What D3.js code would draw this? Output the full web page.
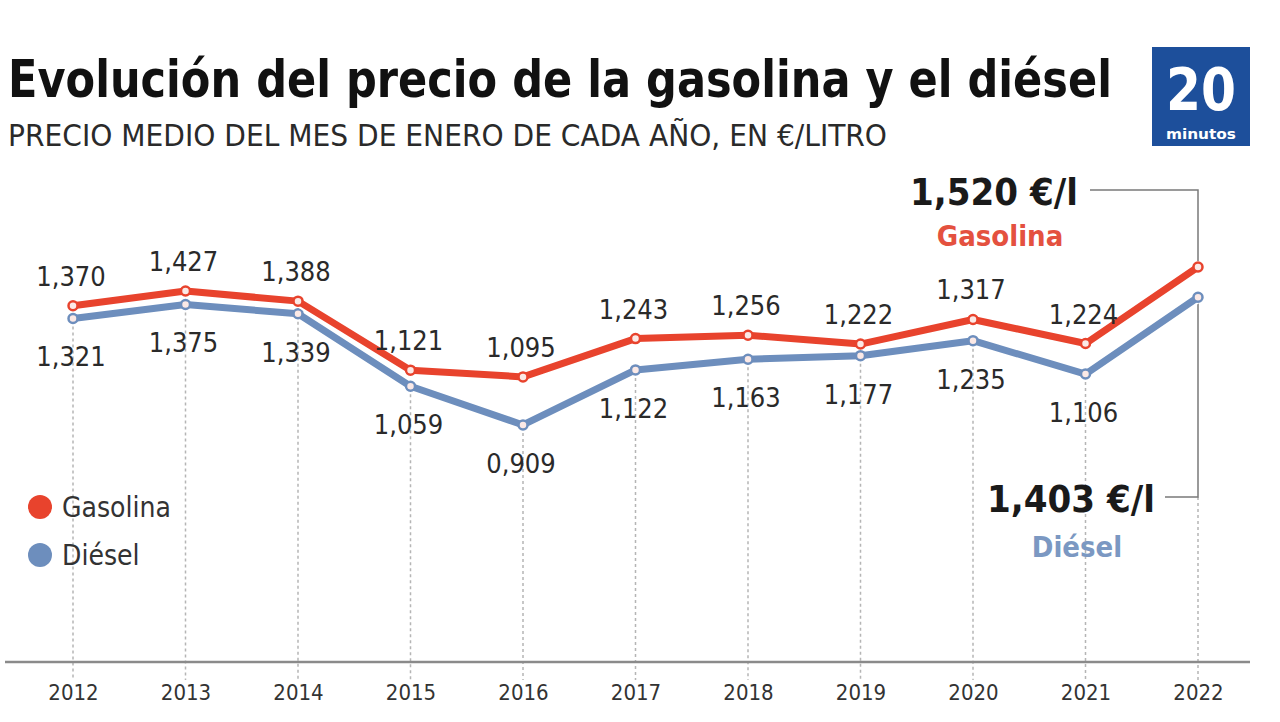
<!DOCTYPE html>
<html>
<head>
<meta charset="utf-8">
<script src="https://cdn.jsdelivr.net/npm/d3@7"></script>
<style>
  html, body { margin: 0; padding: 0; background: #fff; }
  svg { display: block; }
</style>
</head>
<body>
<svg id="chart" width="1280" height="722"></svg>
<script>
// ---- data ----
const years = ["2012","2013","2014","2015","2016","2017","2018","2019","2020","2021","2022"];
const gasolina = [1.370, 1.427, 1.388, 1.121, 1.095, 1.243, 1.256, 1.222, 1.317, 1.224, 1.520];
const diesel   = [1.321, 1.375, 1.339, 1.059, 0.909, 1.122, 1.163, 1.177, 1.235, 1.106, 1.403];
const seriesNames = ["Gasolina", "Diésel"];
const titleText = "Evolución del precio de la gasolina y el diésel";
const subtitleText = "PRECIO MEDIO DEL MES DE ENERO DE CADA AÑO, EN €/LITRO";
const fmt = v => d3.format(".3f")(v).replace(".", ",");

const RED = "#e8432d", BLUE = "#6d8ebd";
const svg = d3.select("#chart");
const FONT = '"Liberation Sans Narrow", "DejaVu Sans Condensed", Roboto, sans-serif';

// scales
const x = d3.scalePoint().domain(years).range([73, 1198]);
const y = d3.scaleLinear().domain([0, 1.52]).range([660, 267]);

// title
svg.append("text").attr("transform", "translate(8,97) scale(1,1.1)")
  .attr("font-family", FONT).attr("font-weight", 700).attr("font-size", 47.5)
  .attr("fill", "#111").attr("textLength", 1104).attr("lengthAdjust", "spacingAndGlyphs")
  .text(titleText);
svg.append("text").attr("x", 8).attr("y", 146)
  .attr("font-family", FONT).attr("font-weight", 400).attr("font-size", 31)
  .attr("fill", "#2a2a2a").attr("textLength", 879).attr("lengthAdjust", "spacingAndGlyphs")
  .text(subtitleText);

// logo
const logo = svg.append("g");
logo.append("rect").attr("x", 1152).attr("y", 47).attr("width", 98).attr("height", 99).attr("fill", "#1d4f9b");
logo.append("text").attr("x", 1201).attr("y", 110).attr("text-anchor", "middle")
  .attr("font-family", FONT).attr("font-weight", 700).attr("font-size", 58).attr("fill", "#fff")
  .attr("textLength", 70).attr("lengthAdjust", "spacingAndGlyphs").text("20");
logo.append("text").attr("x", 1201).attr("y", 139).attr("text-anchor", "middle")
  .attr("font-family", FONT).attr("font-weight", 700).attr("font-size", 14).attr("fill", "#fff")
  .attr("textLength", 70).attr("lengthAdjust", "spacingAndGlyphs").text("minutos");

// vertical dotted guides
const guides = svg.append("g");
years.forEach((yr, i) => {
  const top = i === years.length - 1 ? 497 : y(diesel[i]) + 8;
  guides.append("line")
    .attr("x1", x(yr)).attr("x2", x(yr))
    .attr("y1", top).attr("y2", 680)
    .attr("stroke", "#b5b5b5").attr("stroke-width", 1.5).attr("stroke-dasharray", "3,3");
});

// x axis
const xAxis = d3.axisBottom(x).tickSize(0).tickPadding(0);
const ax = svg.append("g").attr("transform", "translate(0,662)").call(xAxis);
ax.select(".domain").remove();
ax.selectAll("text").attr("font-family", FONT).attr("font-size", 22).attr("fill", "#333")
  .attr("dy", 0).attr("y", 38);
svg.append("line").attr("x1", 5).attr("x2", 1250).attr("y1", 662).attr("y2", 662)
  .attr("stroke", "#8a8a8a").attr("stroke-width", 2.5);

// annotation connectors
const last = years.length - 1;
svg.append("path")
  .attr("d", `M1090,190 H${x(years[last])} V${y(gasolina[last]) - 6}`)
  .attr("fill", "none").attr("stroke", "#7a7a7a").attr("stroke-width", 1.5);
svg.append("path")
  .attr("d", `M1165,497 H${x(years[last])} V${y(diesel[last]) + 6}`)
  .attr("fill", "none").attr("stroke", "#7a7a7a").attr("stroke-width", 1.5);

// lines
const line = d3.line().x((d, i) => x(years[i])).y(d => y(d));
[[diesel, BLUE], [gasolina, RED]].forEach(([data, col]) => {
  svg.append("path").datum(data).attr("d", line).attr("fill", "none")
    .attr("stroke", "#fff").attr("stroke-width", 11).attr("stroke-linejoin", "round");
  svg.append("path").datum(data).attr("d", line).attr("fill", "none")
    .attr("stroke", col).attr("stroke-width", 7).attr("stroke-linejoin", "round");
  svg.append("g").selectAll("circle").data(data).join("circle")
    .attr("cx", (d, i) => x(years[i])).attr("cy", d => y(d)).attr("r", 4.5)
    .attr("fill", "#fbe9e6").attr("stroke", col).attr("stroke-width", 2.5);
});

// value labels (all but last)
const lab = svg.append("g").attr("font-family", FONT).attr("font-size", 27).attr("fill", "#2a2a2a").attr("text-anchor", "middle");
years.slice(0, last).forEach((yr, i) => {
  lab.append("text").attr("x", x(yr) - 2).attr("y", y(gasolina[i]) - 20).text(fmt(gasolina[i]));
  lab.append("text").attr("x", x(yr) - 2).attr("y", y(diesel[i]) + 48).text(fmt(diesel[i]));
});

// end annotations
svg.append("text").attr("x", 1078).attr("y", 205).attr("text-anchor", "end")
  .attr("font-family", FONT).attr("font-weight", 700).attr("font-size", 38).attr("fill", "#1a1a1a")
  .text(fmt(gasolina[last]) + " €/l");
svg.append("text").attr("x", 1000).attr("y", 246).attr("text-anchor", "middle")
  .attr("font-family", FONT).attr("font-weight", 700).attr("font-size", 29).attr("fill", "#e4513f")
  .text(seriesNames[0]);
svg.append("text").attr("x", 1155).attr("y", 512).attr("text-anchor", "end")
  .attr("font-family", FONT).attr("font-weight", 700).attr("font-size", 38).attr("fill", "#1a1a1a")
  .text(fmt(diesel[last]) + " €/l");
svg.append("text").attr("x", 1077).attr("y", 557).attr("text-anchor", "middle")
  .attr("font-family", FONT).attr("font-weight", 700).attr("font-size", 29).attr("fill", "#7b98c2")
  .text(seriesNames[1]);

// legend
const leg = svg.append("g");
[[RED, 507], [BLUE, 555]].forEach(([col, cy], i) => {
  leg.append("circle").attr("cx", 40).attr("cy", cy).attr("r", 12).attr("fill", col);
  leg.append("text").attr("x", 62).attr("y", cy + 10).attr("font-family", FONT)
    .attr("font-size", 28).attr("fill", "#333").text(seriesNames[i]);
});
</script>
</body>
</html>
